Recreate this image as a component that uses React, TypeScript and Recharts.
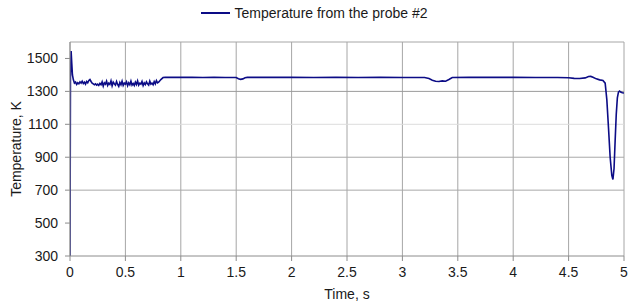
import React from "react";
import {
  LineChart,
  Line,
  XAxis,
  YAxis,
  CartesianGrid,
  ReferenceLine,
  Legend,
} from "recharts";

// time axis (s) and probe temperature (K)
const times = [
  0, 0.004, 0.01, 0.016, 0.022, 0.03, 0.04, 0.05, 0.06, 0.07, 0.08, 0.09, 0.1,
  0.11, 0.12, 0.13, 0.14, 0.15, 0.16, 0.17, 0.18, 0.19, 0.2, 0.21, 0.22, 0.23,
  0.24, 0.25, 0.26, 0.27, 0.28, 0.29, 0.3, 0.31, 0.32, 0.33, 0.34, 0.35, 0.36,
  0.37, 0.38, 0.39, 0.4, 0.41, 0.42, 0.43, 0.44, 0.45, 0.46, 0.47, 0.48, 0.49,
  0.5, 0.51, 0.52, 0.53, 0.54, 0.55, 0.56, 0.57, 0.58, 0.59, 0.6, 0.61, 0.62,
  0.63, 0.64, 0.65, 0.66, 0.67, 0.68, 0.69, 0.7, 0.71, 0.72, 0.73, 0.74, 0.75,
  0.76, 0.77, 0.78, 0.79, 0.8, 0.82, 0.84, 0.86, 0.9, 1.0, 1.1, 1.2, 1.3, 1.4,
  1.5, 1.52, 1.54, 1.56, 1.58, 1.6, 1.8, 2.0, 2.2, 2.4, 2.6, 2.8, 3.0, 3.2,
  3.24, 3.27, 3.3, 3.33, 3.36, 3.39, 3.42, 3.45, 3.6, 3.8, 4.0, 4.2, 4.4, 4.5,
  4.55, 4.6, 4.65, 4.68, 4.7, 4.72, 4.75, 4.78, 4.81, 4.83, 4.845, 4.86, 4.875,
  4.89, 4.9, 4.91, 4.92, 4.93, 4.94, 4.95, 4.96, 4.97, 4.985, 5.0,
];
const temperature = [
  300, 1380, 1545, 1470, 1400, 1372, 1350, 1356, 1342, 1352, 1346, 1358, 1350,
  1362, 1348, 1356, 1344, 1360, 1352, 1366, 1372, 1360, 1350, 1345, 1340, 1346,
  1338, 1344, 1336, 1348, 1340, 1358, 1332, 1352, 1344, 1362, 1336, 1350, 1342,
  1364, 1334, 1356, 1346, 1338, 1360, 1342, 1330, 1354, 1340, 1362, 1336, 1350,
  1344, 1358, 1334, 1352, 1340, 1362, 1338, 1348, 1336, 1356, 1342, 1364, 1338,
  1350, 1344, 1360, 1336, 1352, 1342, 1358, 1346, 1338, 1362, 1344, 1350, 1340,
  1360, 1346, 1366, 1352, 1356, 1372, 1384, 1386, 1385, 1386, 1385, 1384, 1385,
  1384, 1384, 1377, 1373, 1376, 1383, 1385, 1385, 1385, 1384, 1385, 1384, 1385,
  1384, 1384, 1378, 1368, 1362, 1360, 1364, 1362, 1372, 1384, 1385, 1385, 1385,
  1384, 1384, 1383, 1379, 1378, 1382, 1390, 1391, 1386, 1376, 1370, 1366, 1350,
  1250, 1080, 900, 790, 765, 830, 1000, 1160, 1260, 1295, 1302, 1296, 1292, 1290,
];

const xTicks = [0, 0.5, 1, 1.5, 2, 2.5, 3, 3.5, 4, 4.5, 5];
const yTicks = [300, 500, 700, 900, 1100, 1300, 1500];
const gridLevels = [1300, 1100, 900, 700];
const gridColors = ["#9a9a9a", "#dcdcdc", "#a8a8a8", "#a8a8a8"];

const data = times.map((t, i) => ({ t, temp: temperature[i] }));

const LINE_COLOR = "#0c0c86";
const FONT = "'Liberation Sans', Arial, sans-serif";

function ProbeLegend() {
  return (
    <div
      style={{
        height: 26,
        display: "flex",
        alignItems: "center",
        justifyContent: "center",
        fontSize: 14,
        color: "#1a1a1a",
        fontFamily: FONT,
      }}
    >
      <span
        style={{
          display: "inline-block",
          width: 29,
          height: 2,
          background: LINE_COLOR,
          marginRight: 5,
        }}
      />
      Temperature from the probe #2
    </div>
  );
}

export default function App() {
  return (
    <div style={{ position: "absolute", left: 0, top: 0, fontFamily: FONT }}>
      <LineChart
        width={628}
        height={305}
        data={data}
        margin={{ top: 16, right: 4, bottom: 0, left: 0 }}
      >
        <Legend
          verticalAlign="top"
          align="center"
          content={() => <ProbeLegend />}
          wrapperStyle={{ top: 0, left: 0, width: 628 }}
        />
        <CartesianGrid horizontal={false} stroke="#a6a6a6" />
        {gridLevels.map((v, i) => (
          <ReferenceLine key={v} y={v} stroke={gridColors[i]} />
        ))}
        <ReferenceLine y={1600} stroke="#a6a6a6" />
        <XAxis
          dataKey="t"
          type="number"
          domain={[0, 5]}
          ticks={xTicks}
          allowDataOverflow
          height={49}
          stroke="#8c8c8c"
          tickSize={5}
          tickMargin={6}
          tick={{ fill: "#1a1a1a", fontSize: 14 }}
          label={{
            value: "Time, s",
            position: "insideBottom",
            offset: 6,
            fill: "#1a1a1a",
            fontSize: 14,
          }}
        />
        <YAxis
          type="number"
          domain={[300, 1600]}
          ticks={yTicks}
          allowDataOverflow
          width={70}
          stroke="#8c8c8c"
          tickSize={5}
          tickMargin={7}
          tick={{ fill: "#1a1a1a", fontSize: 14 }}
          label={{
            value: "Temperature, K",
            angle: -90,
            position: "insideLeft",
            offset: 16,
            style: { textAnchor: "middle" },
            fill: "#1a1a1a",
            fontSize: 14,
          }}
        />
        <Line
          type="linear"
          dataKey="temp"
          stroke={LINE_COLOR}
          strokeWidth={1.6}
          dot={false}
          isAnimationActive={false}
          name="Temperature from the probe #2"
        />
      </LineChart>
    </div>
  );
}
